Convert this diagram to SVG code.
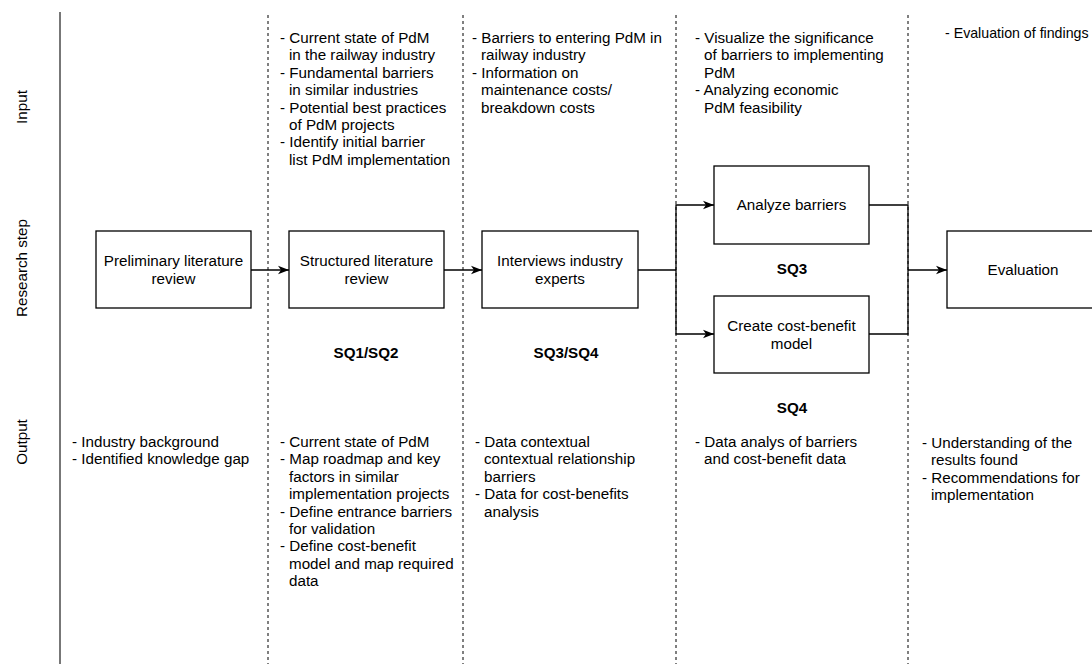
<svg xmlns="http://www.w3.org/2000/svg" width="1092" height="664" viewBox="0 0 1092 664">
  <style>
    text { font-family: "Liberation Sans", Arial, Helvetica, sans-serif; font-size: 15.2px; fill: #000; }
    .c { text-anchor: middle; }
    .b { font-weight: bold; }
    .box { fill: #fff; stroke: #000; stroke-width: 1.3; }
    .edge { fill: none; stroke: #000; stroke-width: 1.3; }
    .lane { fill: none; stroke: #000; stroke-width: 1; stroke-dasharray: 3 3; }
    .axis { fill: none; stroke: #555; stroke-width: 1.6; }
  </style>
  <defs>
    <marker id="arr" markerUnits="userSpaceOnUse" markerWidth="12" markerHeight="10" refX="11" refY="5" orient="auto">
      <path d="M0,0.8 L11,5 L0,9.2 L3,5 Z" fill="#000"/>
    </marker>
  </defs>

  <rect width="1092" height="664" fill="#fff"/>

  <!-- row labels and lane separators -->
  <g id="lanes">
    <line class="axis" x1="60" y1="12" x2="60" y2="664"/>
    <line class="lane" x1="268" y1="15" x2="268" y2="664"/>
    <line class="lane" x1="463" y1="15" x2="463" y2="664"/>
    <line class="lane" x1="676" y1="15" x2="676" y2="664"/>
    <line class="lane" x1="908" y1="15" x2="908" y2="664"/>
    <text class="c" transform="translate(27,107) rotate(-90)">Input</text>
    <text class="c" transform="translate(27,268) rotate(-90)">Research step</text>
    <text class="c" transform="translate(27,442) rotate(-90)">Output</text>
  </g>

  <!-- connectors -->
  <g id="connectors">
    <line class="edge" x1="251" y1="270" x2="289" y2="270" marker-end="url(#arr)"/>
    <line class="edge" x1="444" y1="270" x2="482" y2="270" marker-end="url(#arr)"/>
    <polyline class="edge" points="638,270 676,270"/>
    <polyline class="edge" points="676,270 676,205 714,205" marker-end="url(#arr)"/>
    <polyline class="edge" points="676,270 676,334 714,334" marker-end="url(#arr)"/>
    <polyline class="edge" points="869,205 908,205 908,270"/>
    <polyline class="edge" points="869,334 908,334 908,270"/>
    <line class="edge" x1="908" y1="270" x2="947" y2="270" marker-end="url(#arr)"/>
  </g>

  <!-- research steps -->
  <g id="prelim">
    <rect class="box" x="96" y="231" width="155" height="77"/>
    <text class="c" x="173.5" y="266">Preliminary literature</text>
    <text class="c" x="173.5" y="284">review</text>
  </g>
  <g id="structured">
    <rect class="box" x="289" y="231" width="155" height="77"/>
    <text class="c" x="366.5" y="266">Structured literature</text>
    <text class="c" x="366.5" y="284">review</text>
  </g>
  <g id="interviews">
    <rect class="box" x="482" y="231" width="156" height="77"/>
    <text class="c" x="560" y="266">Interviews industry</text>
    <text class="c" x="560" y="284">experts</text>
  </g>
  <g id="analyze">
    <rect class="box" x="714" y="166" width="155" height="78"/>
    <text class="c" x="791.5" y="210">Analyze barriers</text>
  </g>
  <g id="costbenefit">
    <rect class="box" x="714" y="296" width="155" height="77"/>
    <text class="c" x="791.5" y="331">Create cost-benefit</text>
    <text class="c" x="791.5" y="349">model</text>
  </g>
  <g id="evaluation">
    <rect class="box" x="947" y="231" width="160" height="77"/>
    <text class="c" x="1023" y="275">Evaluation</text>
  </g>

  <!-- sub-question labels -->
  <g id="sq">
    <text class="c b" x="366" y="358">SQ1/SQ2</text>
    <text class="c b" x="566" y="358">SQ3/SQ4</text>
    <text class="c b" x="792" y="274">SQ3</text>
    <text class="c b" x="792" y="413">SQ4</text>
  </g>

  <!-- inputs -->
  <g id="input-structured">
    <text x="280" y="43">- Current state of PdM</text>
    <text x="289" y="60.4">in the railway industry</text>
    <text x="280" y="77.8">- Fundamental barriers</text>
    <text x="289" y="95.2">in similar industries</text>
    <text x="280" y="112.6">- Potential best practices</text>
    <text x="289" y="130">of PdM projects</text>
    <text x="280" y="147.4">- Identify initial barrier</text>
    <text x="289" y="164.8">list PdM implementation</text>
  </g>
  <g id="input-interviews">
    <text x="472" y="43">- Barriers to entering PdM in</text>
    <text x="481" y="60.4">railway industry</text>
    <text x="472" y="77.8">- Information on</text>
    <text x="481" y="95.2">maintenance costs/</text>
    <text x="481" y="112.6">breakdown costs</text>
  </g>
  <g id="input-analysis">
    <text x="695" y="43">- Visualize the significance</text>
    <text x="704" y="60.4">of barriers to implementing</text>
    <text x="704" y="77.8">PdM</text>
    <text x="695" y="95.2">- Analyzing economic</text>
    <text x="704" y="112.6">PdM feasibility</text>
  </g>
  <g id="input-evaluation">
    <text x="945" y="38" style="font-size:14.2px">- Evaluation of findings</text>
  </g>

  <!-- outputs -->
  <g id="output-prelim">
    <text x="72" y="447">- Industry background</text>
    <text x="72" y="464.4">- Identified knowledge gap</text>
  </g>
  <g id="output-structured">
    <text x="280" y="447">- Current state of PdM</text>
    <text x="280" y="464.4">- Map roadmap and key</text>
    <text x="289" y="481.8">factors in similar</text>
    <text x="289" y="499.2">implementation projects</text>
    <text x="280" y="516.6">- Define entrance barriers</text>
    <text x="289" y="534">for validation</text>
    <text x="280" y="551.4">- Define cost-benefit</text>
    <text x="289" y="568.8">model and map required</text>
    <text x="289" y="586.2">data</text>
  </g>
  <g id="output-interviews">
    <text x="475" y="447">- Data contextual</text>
    <text x="484" y="464.4">contextual relationship</text>
    <text x="484" y="481.8">barriers</text>
    <text x="475" y="499.2">- Data for cost-benefits</text>
    <text x="484" y="516.6">analysis</text>
  </g>
  <g id="output-analysis">
    <text x="695" y="447">- Data analys of barriers</text>
    <text x="704" y="464.4">and cost-benefit data</text>
  </g>
  <g id="output-evaluation">
    <text x="922" y="448">- Understanding of the</text>
    <text x="931" y="465.4">results found</text>
    <text x="922" y="482.8">- Recommendations for</text>
    <text x="931" y="500.2">implementation</text>
  </g>
</svg>
